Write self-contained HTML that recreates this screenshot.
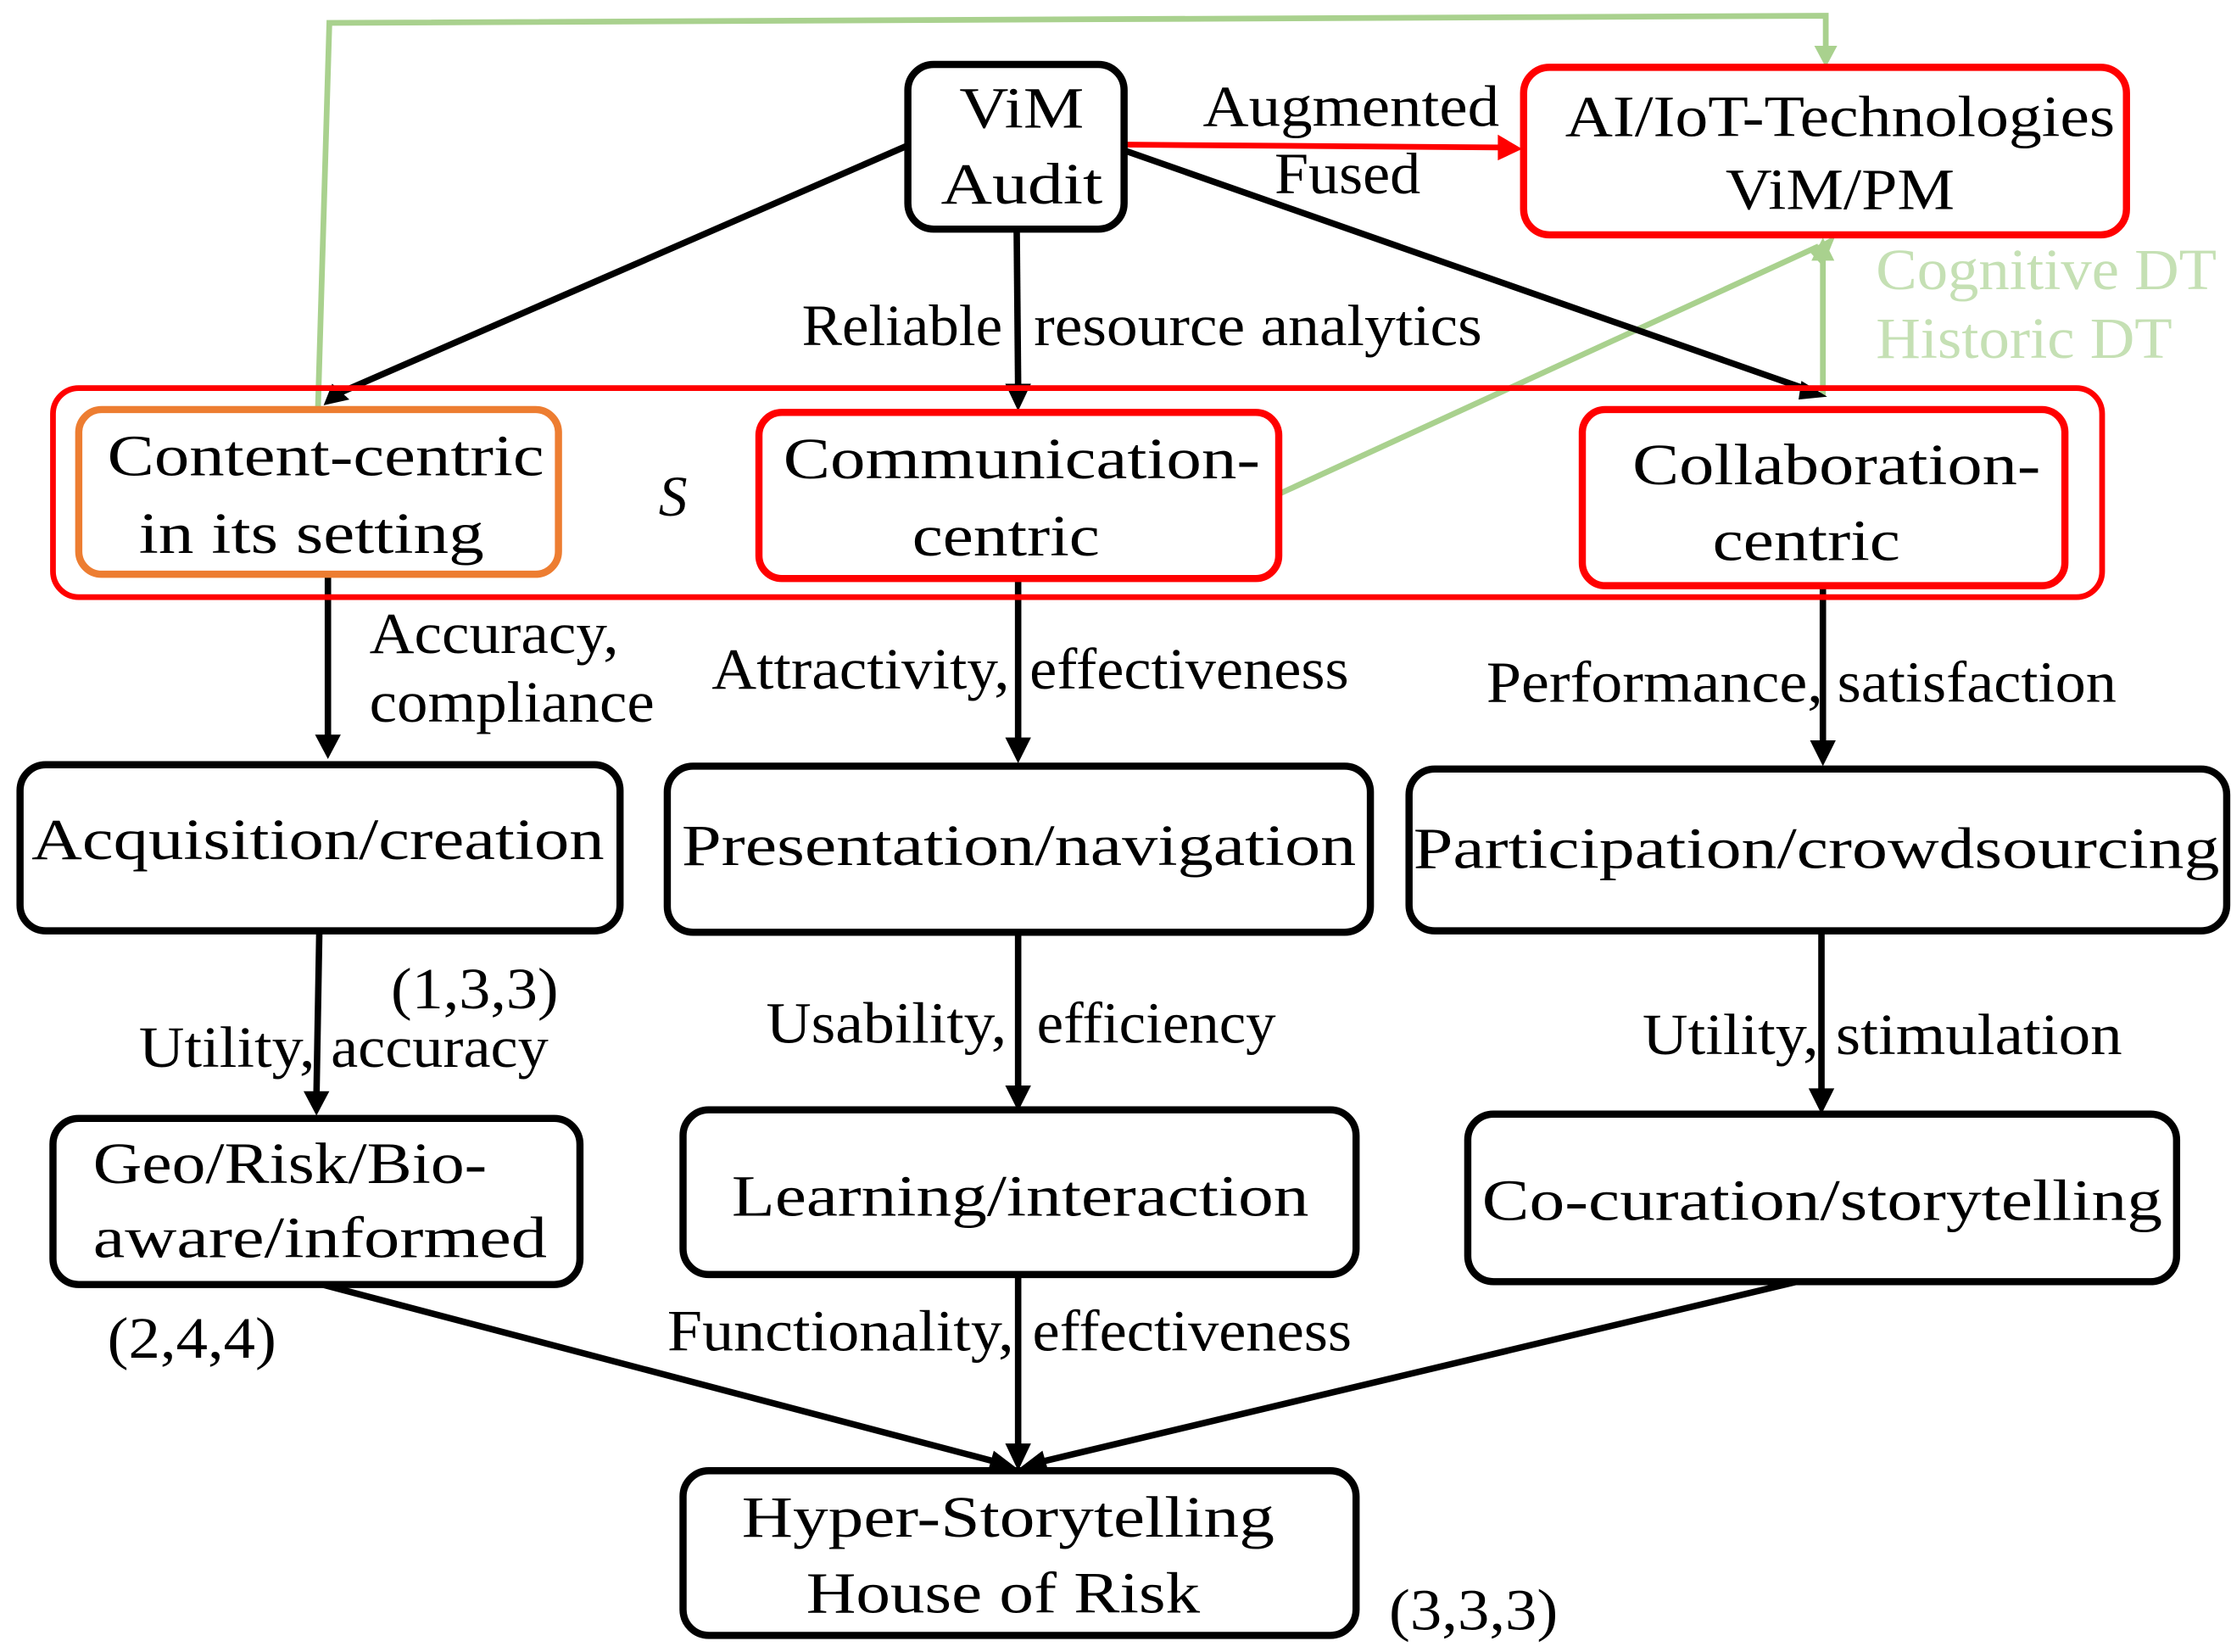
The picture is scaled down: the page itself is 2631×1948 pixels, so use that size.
<!DOCTYPE html>
<html><head><style>
html,body{margin:0;padding:0;background:#fff;}
svg{display:block;}
text{font-family:"Liberation Serif",serif;font-size:41px;fill:#000;}
</style></head><body>
<svg width="2631" height="1948" viewBox="0 0 1558 1153.6" preserveAspectRatio="none" xmlns="http://www.w3.org/2000/svg">
<!-- green connectors -->
<g stroke="#a9d18e" stroke-width="4" fill="none">
<polyline points="222,287 230,16 1275,11 1275,40"/>
<line x1="893" y1="345" x2="1270" y2="172"/>
<line x1="1273" y1="277" x2="1273" y2="178"/>
</g>
<g fill="#a9d18e">
<polygon points="1267,32 1283,32 1275,47"/>
<polygon points="1263,175 1273,186 1282,164"/>
<polygon points="1265,182 1281,182 1273,166"/>
</g>
<text x="1310" y="202" textLength="238" lengthAdjust="spacingAndGlyphs" style="fill:#c5e0b4">Cognitive DT</text>
<text x="1310" y="250" textLength="207" lengthAdjust="spacingAndGlyphs" style="fill:#c5e0b4">Historic DT</text>

<!-- black connectors -->
<g stroke="#000" stroke-width="4.5" fill="none">
<line x1="633" y1="102" x2="238" y2="274"/>
<line x1="710" y1="160" x2="711" y2="270"/>
<line x1="785" y1="105" x2="1262" y2="272"/>
<line x1="229" y1="401" x2="229" y2="515"/>
<line x1="711" y1="404" x2="711" y2="518"/>
<line x1="1273" y1="409" x2="1273" y2="520"/>
<line x1="223" y1="650" x2="221" y2="765"/>
<line x1="711" y1="651" x2="711" y2="761"/>
<line x1="1272" y1="650" x2="1272" y2="763"/>
<line x1="225" y1="897" x2="700" y2="1022"/>
<line x1="711" y1="890" x2="711" y2="1012"/>
<line x1="1255" y1="895" x2="722" y2="1022"/>
</g>
<g fill="#000">
<polygon points="226,283 232,268 244,279"/>
<polygon points="702,268 720,268 711,287"/>
<polygon points="1276,277 1258,266 1256,279"/>
<polygon points="220,513 238,513 229,530"/>
<polygon points="702,515 720,515 711,533"/>
<polygon points="1264,517 1282,517 1273,535"/>
<polygon points="212,762 230,762 221,779"/>
<polygon points="702,758 720,758 711,776"/>
<polygon points="1263,760 1281,760 1272,778"/>
<polygon points="711,1026 694,1013 690,1027"/>
<polygon points="702,1008 720,1008 711,1027"/>
<polygon points="711,1026 728,1013 732,1027"/>
</g>
<line x1="787" y1="101" x2="1048" y2="103" stroke="#f00" stroke-width="4"/>
<polygon points="1046,94 1046,112 1063,104" fill="#f00"/>

<rect x="37" y="271" width="1431" height="146" rx="18" fill="none" stroke="#f00" stroke-width="4"/>

<g fill="#fff" stroke-width="5">
<rect x="634" y="45" width="151" height="115" rx="18" stroke="#000"/>
<rect x="1064" y="47" width="421" height="117" rx="18" stroke="#f00"/>
<rect x="55" y="286" width="335" height="115" rx="16" stroke="#ed7d31"/>
<rect x="530" y="288" width="363" height="116" rx="16" stroke="#f00"/>
<rect x="1105" y="286" width="337" height="123" rx="16" stroke="#f00"/>
<rect x="14" y="534" width="419" height="116" rx="18" stroke="#000"/>
<rect x="466" y="535" width="491" height="116" rx="18" stroke="#000"/>
<rect x="984" y="537" width="571" height="113" rx="18" stroke="#000"/>
<rect x="37" y="781" width="368" height="116" rx="18" stroke="#000"/>
<rect x="477" y="775" width="470" height="115" rx="18" stroke="#000"/>
<rect x="1025" y="778" width="495" height="117" rx="18" stroke="#000"/>
<rect x="477" y="1027" width="470" height="115" rx="18" stroke="#000"/>
</g>

<g lengthAdjust="spacingAndGlyphs">
<text x="670" y="89" textLength="87" lengthAdjust="spacingAndGlyphs">ViM</text>
<text x="657" y="142" textLength="113" lengthAdjust="spacingAndGlyphs">Audit</text>
<text x="1093" y="95" textLength="384" lengthAdjust="spacingAndGlyphs">AI/IoT-Technologies</text>
<text x="1205" y="146" textLength="160" lengthAdjust="spacingAndGlyphs">ViM/PM</text>
<text x="75" y="332" textLength="305" lengthAdjust="spacingAndGlyphs">Content-centric</text>
<text x="97" y="386" textLength="241" lengthAdjust="spacingAndGlyphs">in its setting</text>
<text x="547" y="334" textLength="333" lengthAdjust="spacingAndGlyphs">Communication-</text>
<text x="637" y="388" textLength="131" lengthAdjust="spacingAndGlyphs">centric</text>
<text x="1140" y="338" textLength="285" lengthAdjust="spacingAndGlyphs">Collaboration-</text>
<text x="1196" y="391" textLength="131" lengthAdjust="spacingAndGlyphs">centric</text>
<text x="22" y="600" textLength="400" lengthAdjust="spacingAndGlyphs">Acquisition/creation</text>
<text x="476" y="604" textLength="471" lengthAdjust="spacingAndGlyphs">Presentation/navigation</text>
<text x="987" y="606" textLength="563" lengthAdjust="spacingAndGlyphs">Participation/crowdsourcing</text>
<text x="65" y="826" textLength="275" lengthAdjust="spacingAndGlyphs">Geo/Risk/Bio-</text>
<text x="65" y="878" textLength="317" lengthAdjust="spacingAndGlyphs">aware/informed</text>
<text x="511" y="849" textLength="403" lengthAdjust="spacingAndGlyphs">Learning/interaction</text>
<text x="1035" y="852" textLength="475" lengthAdjust="spacingAndGlyphs">Co-curation/storytelling</text>
<text x="518" y="1073" textLength="372" lengthAdjust="spacingAndGlyphs">Hyper-Storytelling</text>
<text x="563" y="1126" textLength="275" lengthAdjust="spacingAndGlyphs">House of Risk</text>
</g>

<g style="font-size:37px">
<text x="840" y="88" textLength="207" lengthAdjust="spacingAndGlyphs">Augmented</text>
<text x="890" y="135" textLength="102" lengthAdjust="spacingAndGlyphs">Fused</text>
<text x="560" y="241" textLength="140" lengthAdjust="spacingAndGlyphs">Reliable</text>
<text x="722" y="241" textLength="313" lengthAdjust="spacingAndGlyphs">resource analytics</text>
<text x="258" y="456" textLength="174" lengthAdjust="spacingAndGlyphs">Accuracy,</text>
<text x="258" y="504" textLength="199" lengthAdjust="spacingAndGlyphs">compliance</text>
<text x="497" y="481" textLength="208" lengthAdjust="spacingAndGlyphs">Attractivity,</text>
<text x="719" y="481" textLength="223" lengthAdjust="spacingAndGlyphs">effectiveness</text>
<text x="1038" y="490" textLength="235" lengthAdjust="spacingAndGlyphs">Performance,</text>
<text x="1283" y="490" textLength="195" lengthAdjust="spacingAndGlyphs">satisfaction</text>
<text x="273" y="704" textLength="117" lengthAdjust="spacingAndGlyphs">(1,3,3)</text>
<text x="97" y="745" textLength="123" lengthAdjust="spacingAndGlyphs">Utility,</text>
<text x="231" y="745" textLength="152" lengthAdjust="spacingAndGlyphs">accuracy</text>
<text x="535" y="728" textLength="168" lengthAdjust="spacingAndGlyphs">Usability,</text>
<text x="724" y="728" textLength="167" lengthAdjust="spacingAndGlyphs">efficiency</text>
<text x="1147" y="736" textLength="123" lengthAdjust="spacingAndGlyphs">Utility,</text>
<text x="1282" y="736" textLength="200" lengthAdjust="spacingAndGlyphs">stimulation</text>
<text x="75" y="948" textLength="118" lengthAdjust="spacingAndGlyphs">(2,4,4)</text>
<text x="466" y="943" textLength="242" lengthAdjust="spacingAndGlyphs">Functionality,</text>
<text x="721" y="943" textLength="223" lengthAdjust="spacingAndGlyphs">effectiveness</text>
<text x="970" y="1138" textLength="118" lengthAdjust="spacingAndGlyphs">(3,3,3)</text>
</g>
<text x="460" y="360" style="font-style:italic;font-size:40px">S</text>
</svg>
</body></html>
